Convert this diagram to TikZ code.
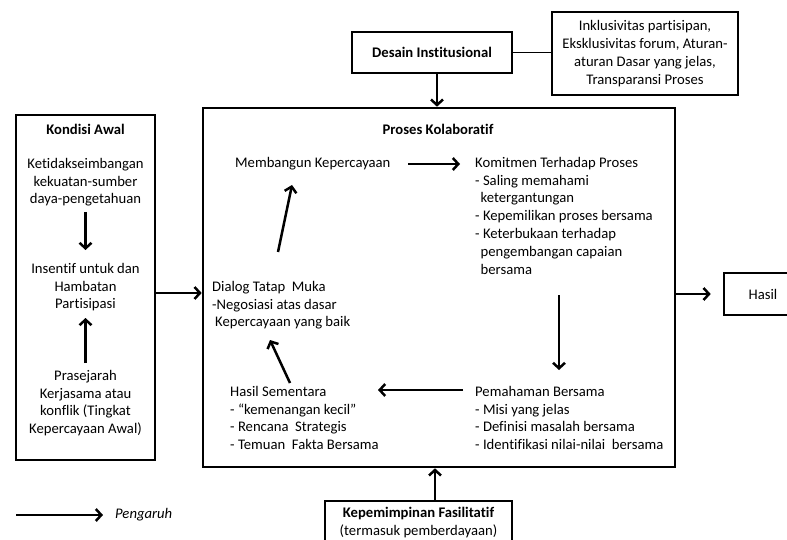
\documentclass[tikz,border=0pt]{standalone}
\usepackage{fontspec}
\setmainfont{Carlito}[Ligatures={NoCommon}]
\usetikzlibrary{arrows.meta,calc}
\begin{document}
\begin{tikzpicture}[x=1pt,y=-1pt,
  base/.style={font=\fontsize{14.67}{17.8}\selectfont},
  bold/.style={font=\fontsize{14.67}{17.8}\selectfont\bfseries},
  box/.style={draw,line width=2.6pt,inner sep=0pt},
  arr/.style={line width=2.5pt,-{Straight Barb[length=5.5pt,width=12pt]}},
  txt/.style={inner sep=0pt,align=left,anchor=north west},
  ctxt/.style={inner sep=0pt,align=center,anchor=north}]
\useasboundingbox (0,0) rectangle (787,540);
\clip (0,0) rectangle (787,540);

% outer boxes
\node[box,bold,minimum width=160pt,minimum height=41pt] (desain) at (432,52.5) {Desain Institusional};
\node[box,base,align=center,minimum width=186pt,minimum height=83pt] (inkl) at (645,53.5)
  {Inklusivitas partisipan,\\Eksklusivitas forum, Aturan-\\aturan Dasar yang jelas,\\Transparansi Proses};
\node[box,minimum width=472pt,minimum height=359pt] (main) at (439,287.5) {};
\node[box,minimum width=139pt,minimum height=345pt] (kondisi) at (85.5,287.5) {};
\node[box,base,minimum width=78pt,minimum height=42pt] (hasil) at (763,294) {Hasil};
\node[box,base,align=center,minimum width=187pt,minimum height=43pt] (kepem) at (418.5,522.5)
  {\textbf{Kepemimpinan Fasilitatif}\\(termasuk pemberdayaan)};

% legend
\coordinate (legs) at (16,515);
\node[base,font=\fontsize{14.67}{17.8}\selectfont\itshape,anchor=west,inner sep=0pt] (peng) at (115,515) {Pengaruh};
\draw[arr,shorten >=12pt] (legs) -- (peng.west);

% left box content
\node[bold] (kt) at (85.5,129) {Kondisi Awal};
\node[ctxt,base] (ket) at (85.5,158) {Ketidakseimbangan\\kekuatan-sumber\\daya-pengetahuan};
\node[ctxt,base] (ins) at (85.5,263) {Insentif untuk dan\\Hambatan\\Partisipasi};
\node[ctxt,base] (pra) at (85.5,370) {Prasejarah\\Kerjasama atau\\konflik (Tingkat\\Kepercayaan Awal)};

% main box content
\node[bold] (pt) at (438,129) {Proses Kolaboratif};
\node[txt,base] (memb) at (235,157) {Membangun Kepercayaan};
\node[txt,base] (kom) at (475,157) {Komitmen Terhadap Proses\\- Saling memahami\\\hspace*{5.5pt}ketergantungan\\- Kepemilikan proses bersama\\- Keterbukaan terhadap\\\hspace*{5.5pt}pengembangan capaian\\\hspace*{5.5pt}bersama};
\node[txt,base] (dlg) at (212,281) {Dialog Tatap\ \ Muka\\-Negosiasi atas dasar\\\hspace*{3pt}Kepercayaan yang baik};
\node[txt,base] (hs) at (230,386) {Hasil Sementara\\- “kemenangan kecil”\\- Rencana\ \ Strategis\\- Temuan\ \ Fakta Bersama};
\node[txt,base] (pem) at (475,386) {Pemahaman Bersama\\- Misi yang jelas\\- Definisi masalah bersama\\- Identifikasi nilai-nilai\ \ bersama};

% connectors between outer boxes
\draw[arr] ([xshift=5pt]desain.south) -- ([xshift=5pt]desain.south |- main.north);
\draw[line width=1pt] (desain.east) -- (desain.east -| inkl.west);
\draw[arr] ([yshift=-5.5pt]kondisi.east) -- ([yshift=-5.5pt]kondisi.east -| main.west);
\draw[arr,shorten >=12pt] (main.east |- hasil.west) -- (hasil.west);
\draw[arr] ([xshift=16.5pt]kepem.north) -- ([xshift=16.5pt]kepem.north |- main.south);

% left inner arrows
\draw[arr] ($(ket.north)+(0,54)$) -- ($(ins.north)+(0,-13)$);
\draw[arr] ($(pra.north)+(0,-7)$) -- ($(ins.north)+(0,55)$);

% main inner arrows
\draw[arr] ($(memb.north west)+(173,7)$) -- ($(kom.north west)+(-15,7)$);
\draw[arr] ($(kom.north west)+(84,138)$) -- ($(pem.north west)+(84,-16)$);
\draw[arr] ($(pem.north west)+(-12,4)$) -- ($(hs.north west)+(148,4)$);
\draw[arr] ($(hs.north west)+(60,-3)$) -- ($(dlg.north west)+(58,59)$);
\draw[arr] ($(dlg.north west)+(66,-29)$) -- ($(memb.north west)+(57,28)$);
\end{tikzpicture}
\end{document}
